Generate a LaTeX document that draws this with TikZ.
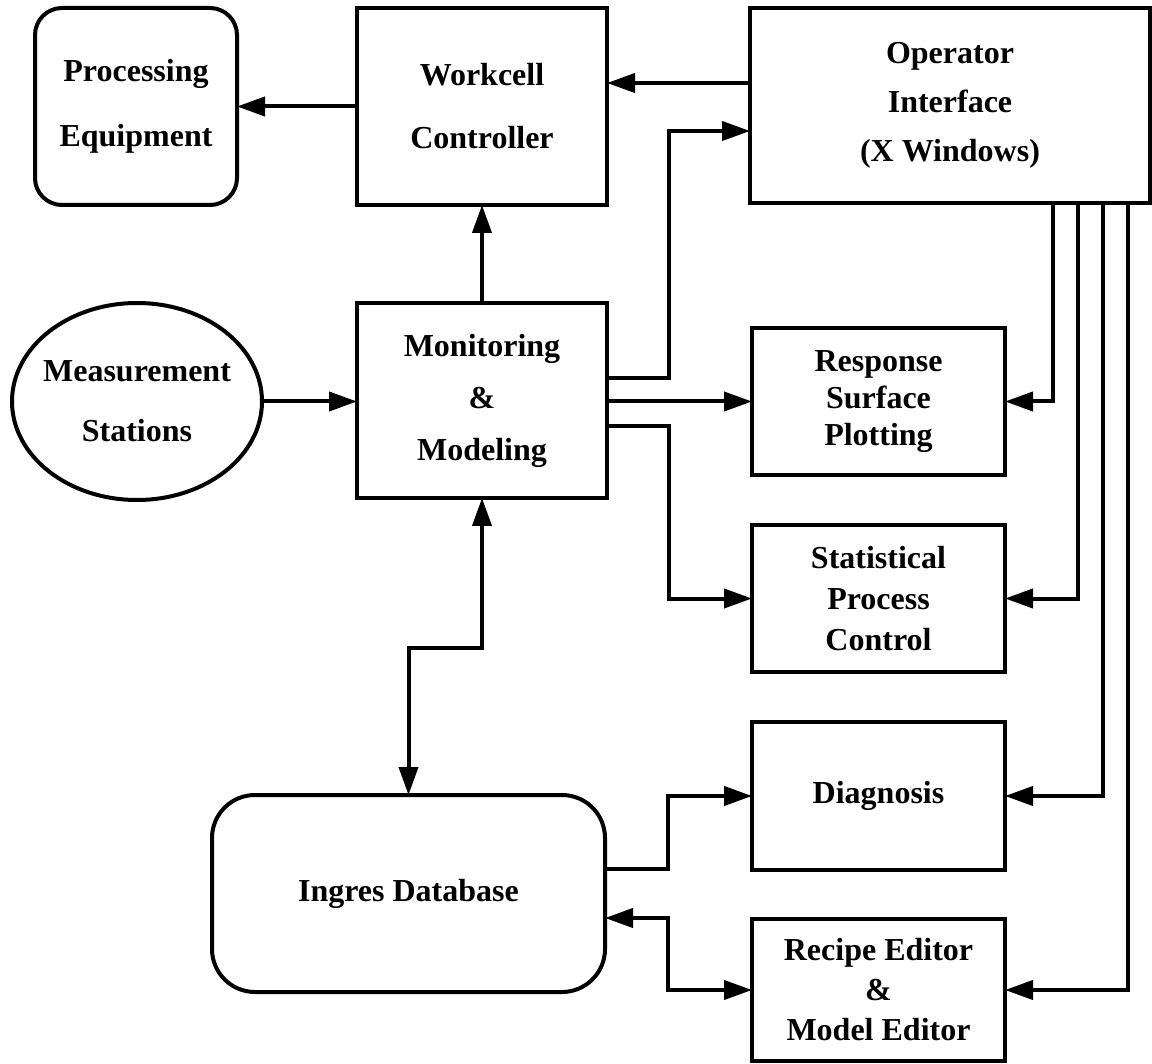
\documentclass[tikz,border=0pt]{standalone}
\usepackage{fontspec}
\setmainfont{Liberation Serif}
\usetikzlibrary{arrows.meta,shapes.geometric}
\begin{document}
\begin{tikzpicture}[x=1pt,y=-1pt,
  line width=4pt,
  box/.style={draw, rectangle, inner sep=0pt, outer sep=0pt, align=center,
    font=\fontsize{32}{#1}\selectfont\bfseries},
  box/.default=50,
  arr/.style={-{Triangle[length=28pt,width=19pt]}},
  arrboth/.style={{Triangle[length=28pt,width=19pt]}-{Triangle[length=28pt,width=19pt]}}
]
\useasboundingbox (0,0) rectangle (1152,1064);

% nodes
\node[box=65, rounded corners=27pt, minimum width=202pt, minimum height=197pt] (pe) at (136,106.5) {Processing\\Equipment};
\node[box=63, minimum width=250pt, minimum height=197pt] (wc) at (482,106.5) {Workcell\\Controller};
\node[box=49, minimum width=400pt, minimum height=195pt] (oi) at (950,105.5) {Operator\\Interface\\(X Windows)};
\node[draw, ellipse, inner sep=0pt, outer sep=0pt, minimum width=250pt, minimum height=197pt] (ms) at (137,401.5) {};
\node[inner sep=0pt, align=center, font=\fontsize{32}{60}\selectfont\bfseries] (mstext) at (ms.center) {Measurement\\Stations};
\node[box=52, minimum width=250pt, minimum height=195pt] (mm) at (482,400.5) {Monitoring\\\&\\Modeling};
\node[box=37, minimum width=253pt, minimum height=147pt] (rs) at (878.5,401.5) {Response\\Surface\\Plotting};
\node[box=41, minimum width=253pt, minimum height=147pt] (spc) at (878.5,598.5) {Statistical\\Process\\Control};
\node[box=40, minimum width=253pt, minimum height=148pt] (dg) at (878.5,796) {Diagnosis};
\node[box=40, minimum width=253pt, minimum height=142pt] (re) at (878.5,990) {Recipe Editor\\\&\\Model Editor};
\node[box=40, rounded corners=43pt, minimum width=393pt, minimum height=197pt] (db) at (408.5,893.5) {Ingres Database};

% connectors
\draw[arr] (wc.west) -- (pe.east);
\draw[arr] (oi.west |- 0,83) -- (wc.east |- 0,83);
\draw[arr] (mm.east |- 0,378) -| (669,131) -- (oi.west |- 0,131);
\draw[arr] (ms.east) -- (mm.west |- ms.east);
\draw[arr] (mm.north) -- (wc.south);
\draw[arr] (mm.east |- rs.west) -- (rs.west);
\draw[arr] (mm.east |- 0,426) -- (669,426) |- (spc.west);
\draw[arr] (oi.south -| 1053,0) |- (rs.east);
\draw[arr] (oi.south -| 1078,0) |- (spc.east);
\draw[arr] (oi.south -| 1103,0) |- (dg.east);
\draw[arr] (oi.south -| 1128,0) |- (re.east);
\draw[arrboth] (mm.south) -- (mm.south |- 0,648) -| (db.north);
\draw[arr] (db.east |- 0,869) -- (668,869) |- (dg.west);
\draw[arrboth] (db.east |- 0,918) -- (668,918) |- (re.west);
\end{tikzpicture}
\end{document}
